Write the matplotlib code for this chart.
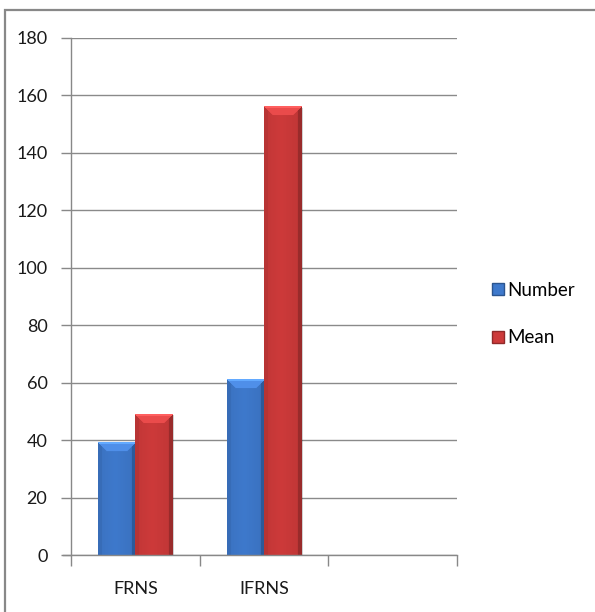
import numpy as np
import matplotlib.pyplot as plt
from matplotlib.patches import Rectangle

# bar chart data
categories = ['FRNS', 'IFRNS', '']
number_vals = [39, 61, None]
mean_vals = [49, 156, None]
yticks = [0, 20, 40, 60, 80, 100, 120, 140, 160, 180]

blue = np.array([62, 121, 204]) / 255.0
red = np.array([205, 58, 58]) / 255.0

plt.rcParams['font.family'] = ['Lato', 'DejaVu Sans']

fig = plt.figure(figsize=(5.95, 6.12), dpi=100)
ax = fig.add_axes([71/595, 57/612, (457-71)/595, (555-38)/612])

# outer chart frame
fig.patches.append(Rectangle((5/595, -0.1), 1.2, (612-10)/612 + 0.1, transform=fig.transFigure,
                             fill=False, edgecolor='#888888', linewidth=1.6))

px_per_unit = 517/180
px_per_x = 128.7


def bevel_bar(x0, w, h, col):
    # shaded bar: lighter top bevel, darker side edges
    H = max(int(round(h*px_per_unit)), 2)
    W = max(int(round(w*px_per_x)), 2)
    yy, xx = np.mgrid[0:H, 0:W]
    dl = xx + 0.5
    dr = W - xx - 0.5
    dt = yy + 0.5
    b = 9.0
    u = xx / (W - 1)
    shade = 1.0 - 0.12*np.abs(u - 0.45)
    img = np.ones((H, W, 3)) * col
    img *= shade[..., None]
    top = (dt < b) & (dt <= dl) & (dt <= dr)
    left = (dl < 4) & ~top
    right = (dr < 4) & ~top
    img[top] = np.clip(col*1.08 + 0.05, 0, 1)
    img[(dt < 2.5) & top] = np.clip(col*1.2 + 0.1, 0, 1)
    img[left] = col*0.9
    img[right] = col*0.75
    img = np.clip(img, 0, 1)
    # soft shadow on the right
    ax.add_patch(Rectangle((x0 + 1.5/px_per_x, 0), w, h - 1/px_per_unit, color='#000000',
                           alpha=0.18, zorder=2, linewidth=0))
    ax.imshow(img, extent=(x0, x0 + w, 0, h), aspect='auto', zorder=3, interpolation='bilinear')


bw = 0.288
x = np.arange(len(categories))
for i in range(len(categories)):
    if number_vals[i] is not None:
        bevel_bar(x[i] - bw, bw, number_vals[i], blue)
    if mean_vals[i] is not None:
        bevel_bar(x[i], bw, mean_vals[i], red)

ax.set_xlim(-0.5, 2.5)
ax.set_ylim(0, 180)
ax.set_yticks(yticks)
ax.set_xticks([-0.5, 0.5, 1.5, 2.5])
ax.set_xticklabels([])
ax.set_xticks(x, categories, minor=True)
ax.tick_params(axis='x', which='minor', length=0, pad=19, labelsize=13)
ax.tick_params(axis='x', which='major', length=8, color='#888888', width=1)
ax.tick_params(axis='y', length=7, color='#888888', width=1, labelsize=13, pad=10)
for t in ax.get_xticklabels(minor=True) + ax.get_yticklabels():
    t.set_color('#1a1a1a')

ax.grid(axis='y', color='#8a8a8a', linewidth=1)
ax.set_axisbelow(True)
for s in ['top', 'right']:
    ax.spines[s].set_visible(False)
for s in ['left', 'bottom']:
    ax.spines[s].set_color('#888888')
    ax.spines[s].set_linewidth(1)
ax.spines['bottom'].set_bounds(-0.5 - 8/px_per_x, 2.5)
ax.spines['bottom'].set_zorder(4)

# legend
h1 = Rectangle((0, 0), 1, 1, facecolor=blue, edgecolor=blue*0.7)
h2 = Rectangle((0, 0), 1, 1, facecolor=red, edgecolor=red*0.7)
fig.legend([h1, h2], ['Number', 'Mean'], loc='center left', bbox_to_anchor=(475/595, 1 - 314/612),
           frameon=False, fontsize=13.5, handlelength=0.65, handleheight=0.65, handletextpad=0.15,
           labelspacing=1.65)

fig.savefig('out.png', dpi=100)
